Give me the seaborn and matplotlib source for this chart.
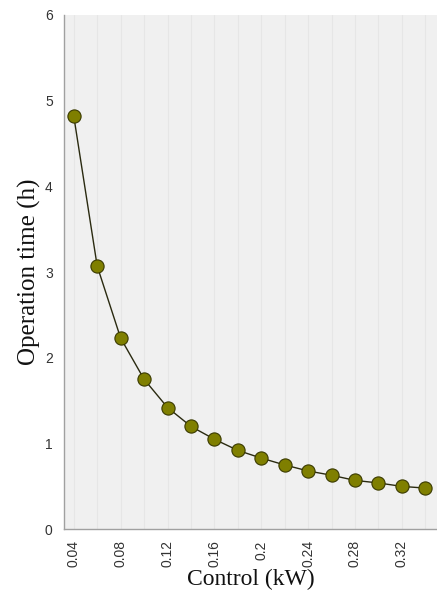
import numpy as np
import pandas as pd
import seaborn as sns
import matplotlib.pyplot as plt
from matplotlib.ticker import MultipleLocator

# control power (kW) vs operation time (h)
control = [0.04, 0.06, 0.08, 0.10, 0.12, 0.14, 0.16, 0.18, 0.20, 0.22,
           0.24, 0.26, 0.28, 0.30, 0.32, 0.34]
op_time = [4.82, 3.07, 2.23, 1.75, 1.42, 1.20, 1.05, 0.92, 0.83, 0.75,
           0.68, 0.63, 0.57, 0.54, 0.50, 0.48]
x_ticks = [0.04, 0.08, 0.12, 0.16, 0.2, 0.24, 0.28, 0.32]
x_tick_labels = ['0.04', '0.08', '0.12', '0.16', '0.2', '0.24', '0.28', '0.32']
y_ticks = [0, 1, 2, 3, 4, 5, 6]

df = pd.DataFrame({'control': control, 'time': op_time})

sns.set_style('white')
plt.rcParams['font.family'] = ['Liberation Sans', 'DejaVu Sans']

fig = plt.figure(figsize=(4.37, 5.96), dpi=100)
ax = fig.add_axes([0.146, 0.112, 0.854, 0.863])
ax.set_facecolor('#f0f0f0')

sns.lineplot(data=df, x='control', y='time', ax=ax, color='#2a2a10',
             linewidth=1.0, marker='o', markersize=9.5,
             markerfacecolor='#7f7f00', markeredgecolor='#3a3a00',
             markeredgewidth=0.8)

ax.set_xlim(0.0315, 0.35)
ax.set_ylim(0, 6)
ax.set_xticks(x_ticks)
ax.set_xticklabels(x_tick_labels, rotation=90)
ax.xaxis.set_minor_locator(MultipleLocator(0.02))
ax.set_yticks(y_ticks)

ax.grid(True, axis='x', which='both', color='#e6e6e6', linewidth=0.8)
ax.set_axisbelow(True)

for side in ['top', 'right']:
    ax.spines[side].set_visible(False)
for side in ['left', 'bottom']:
    ax.spines[side].set_color('#a0a0a0')
    ax.spines[side].set_linewidth(1.0)

ax.tick_params(axis='both', which='major', direction='out', length=5,
               color='#a0a0a0', labelsize=10, labelcolor='#333333', pad=3)
ax.tick_params(axis='x', which='minor', direction='out', length=4,
               color='#c0c0c0')

ax.set_xlabel('Control (kW)', family='Liberation Serif', fontsize=17,
              color='#111111', labelpad=1)
ax.set_ylabel('Operation time (h)', family='Liberation Serif', fontsize=18,
              color='#111111', labelpad=3)

fig.savefig('out.png', dpi=100)
